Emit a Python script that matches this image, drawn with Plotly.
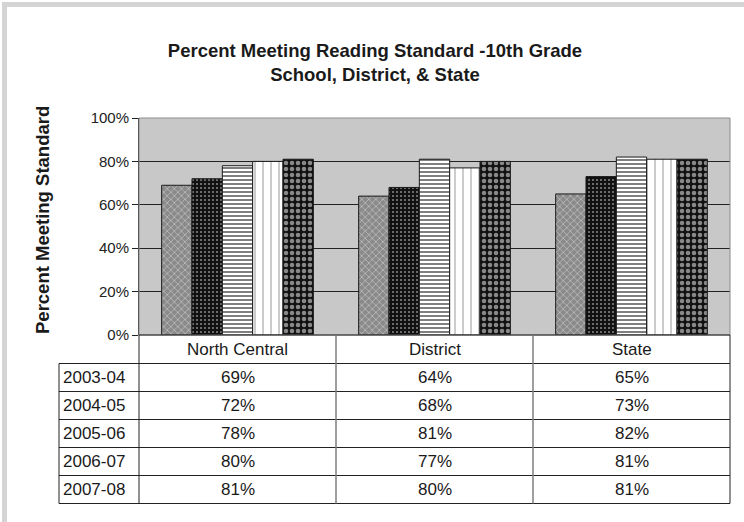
import plotly.graph_objects as go

categories = ["North Central", "District", "State"]
years = ["2003-04", "2004-05", "2005-06", "2006-07", "2007-08"]
values = {
    "2003-04": [0.69, 0.64, 0.65],
    "2004-05": [0.72, 0.68, 0.73],
    "2005-06": [0.78, 0.81, 0.82],
    "2006-07": [0.80, 0.77, 0.81],
    "2007-08": [0.81, 0.80, 0.81],
}
y_ticks = [0, 0.2, 0.4, 0.6, 0.8, 1.0]
y_ticklabels = ["0%", "20%", "40%", "60%", "80%", "100%"]

patterns = [
    dict(shape="x", bgcolor="#8a8a8a", fgcolor="#ffffff", size=5, solidity=0.25),
    dict(shape=".", bgcolor="#111111", fgcolor="#ffffff", size=4, solidity=0.2),
    dict(shape="-", bgcolor="#ffffff", fgcolor="#000000", size=4, solidity=0.5),
    dict(shape="|", bgcolor="#ffffff", fgcolor="#000000", size=8, solidity=0.1),
    dict(shape=".", bgcolor="#111111", fgcolor="#ffffff", size=6, solidity=0.45),
]

W, H = 744, 522
L, R, T, B = 139, 730, 118, 335
pw, ph = R - L, B - T


def px(p):
    return (p - L) / pw


def py(p):
    return (B - p) / ph


fig = go.Figure()
for yr, pat in zip(years, patterns):
    fig.add_trace(go.Bar(
        x=categories, y=values[yr], name=yr,
        marker=dict(color=pat["fgcolor"], pattern=pat,
                    line=dict(color="#1a1a1a", width=1)),
        hoverinfo="x+y+name",
    ))

font = "Liberation Sans, Arial, sans-serif"
txt = "#1a1a1a"
shapes = []
annotations = []

# plot area border
shapes.append(dict(type="rect", xref="paper", yref="paper", x0=0, x1=1, y0=0, y1=1,
                   line=dict(color="#8c8c8c", width=1), layer="above"))

# frame (light gray top & left)
shapes.append(dict(type="line", xref="paper", yref="paper", x0=px(4.5), x1=px(4.5),
                   y0=py(2), y1=py(522), line=dict(color="#d4d4d4", width=5)))
shapes.append(dict(type="line", xref="paper", yref="paper", x0=px(2), x1=px(744),
                   y0=py(4.5), y1=py(4.5), line=dict(color="#d4d4d4", width=5)))

# table geometry
row_tops = [335, 363.5, 391.5, 419.5, 447.5, 475.5, 503.5]
col_x = [59, 139, 336, 533, 730]
dark = "#222222"
gray = "#7f7f7f"
shapes.append(dict(type="line", xref="paper", yref="paper", x0=px(col_x[1]), x1=px(col_x[-1]),
                   y0=py(row_tops[0]), y1=py(row_tops[0]), line=dict(color=dark, width=1)))
for yy in row_tops[1:]:
    shapes.append(dict(type="line", xref="paper", yref="paper", x0=px(col_x[0]), x1=px(col_x[-1]),
                       y0=py(yy), y1=py(yy), line=dict(color=dark, width=1)))
shapes.append(dict(type="line", xref="paper", yref="paper", x0=px(col_x[0]), x1=px(col_x[0]),
                   y0=py(row_tops[1]), y1=py(row_tops[-1]), line=dict(color=dark, width=1)))
shapes.append(dict(type="line", xref="paper", yref="paper", x0=px(col_x[1]), x1=px(col_x[1]),
                   y0=py(row_tops[0]), y1=py(row_tops[-1]), line=dict(color=dark, width=1)))
for xx in col_x[2:4]:
    shapes.append(dict(type="line", xref="paper", yref="paper", x0=px(xx), x1=px(xx),
                       y0=py(row_tops[0]), y1=py(row_tops[-1]), line=dict(color=gray, width=1.5)))
shapes.append(dict(type="line", xref="paper", yref="paper", x0=px(col_x[-1]), x1=px(col_x[-1]),
                   y0=py(row_tops[0]), y1=py(row_tops[-1]), line=dict(color=dark, width=1)))

# header row (category names)
hc = (row_tops[0] + row_tops[1]) / 2
for c in categories:
    annotations.append(dict(x=c, xref="x", y=py(hc), yref="paper", text=c, showarrow=False,
                            font=dict(family=font, size=17, color=txt), xanchor="center",
                            yanchor="middle"))
# data rows
for i, yr in enumerate(years):
    rc = (row_tops[i + 1] + row_tops[i + 2]) / 2
    annotations.append(dict(x=px(61), xref="paper", y=py(rc), yref="paper", text=yr,
                            showarrow=False, xanchor="left", yanchor="middle",
                            font=dict(family=font, size=17, color=txt)))
    for c, v in zip(categories, values[yr]):
        annotations.append(dict(x=c, xref="x", y=py(rc), yref="paper", text=f"{round(v*100)}%",
                                showarrow=False, xanchor="center", yanchor="middle",
                                font=dict(family=font, size=17, color=txt)))

# y axis title
annotations.append(dict(x=px(42), xref="paper", y=py(220), yref="paper",
                        text="<b>Percent Meeting Standard</b>", textangle=-90, showarrow=False,
                        xanchor="center", yanchor="middle",
                        font=dict(family=font, size=18.5, color=txt)))

fig.update_layout(
    width=W, height=H,
    margin=dict(l=L, r=W - R, t=T, b=H - B, pad=0),
    paper_bgcolor="white", plot_bgcolor="#c8c8c8",
    barmode="group", bargap=0.23, bargroupgap=0,
    showlegend=False,
    title=dict(text="<b>Percent Meeting Reading Standard -10th Grade<br>School, District, & State</b>",
               x=375 / W, xref="container", xanchor="center",
               y=1 - 57 / H, yref="container", yanchor="middle",
               font=dict(family=font, size=18.5, color=txt)),
    shapes=shapes, annotations=annotations,
    xaxis=dict(showticklabels=False, ticks="", showgrid=False, showline=False, zeroline=False,
               range=[-0.5, 2.5], fixedrange=True),
    yaxis=dict(range=[0, 1], tickvals=y_ticks, ticktext=y_ticklabels,
               ticks="outside", ticklen=6, tickcolor="#222", showline=True, linecolor="#222",
               linewidth=1, showgrid=True, gridcolor="#222", gridwidth=1, zeroline=False,
               tickfont=dict(family=font, size=15, color="#222"), fixedrange=True),
)

fig.write_html("out.html", config={"displayModeBar": False},
               post_script="document.body.style.margin='0';document.body.style.overflow='hidden';")
